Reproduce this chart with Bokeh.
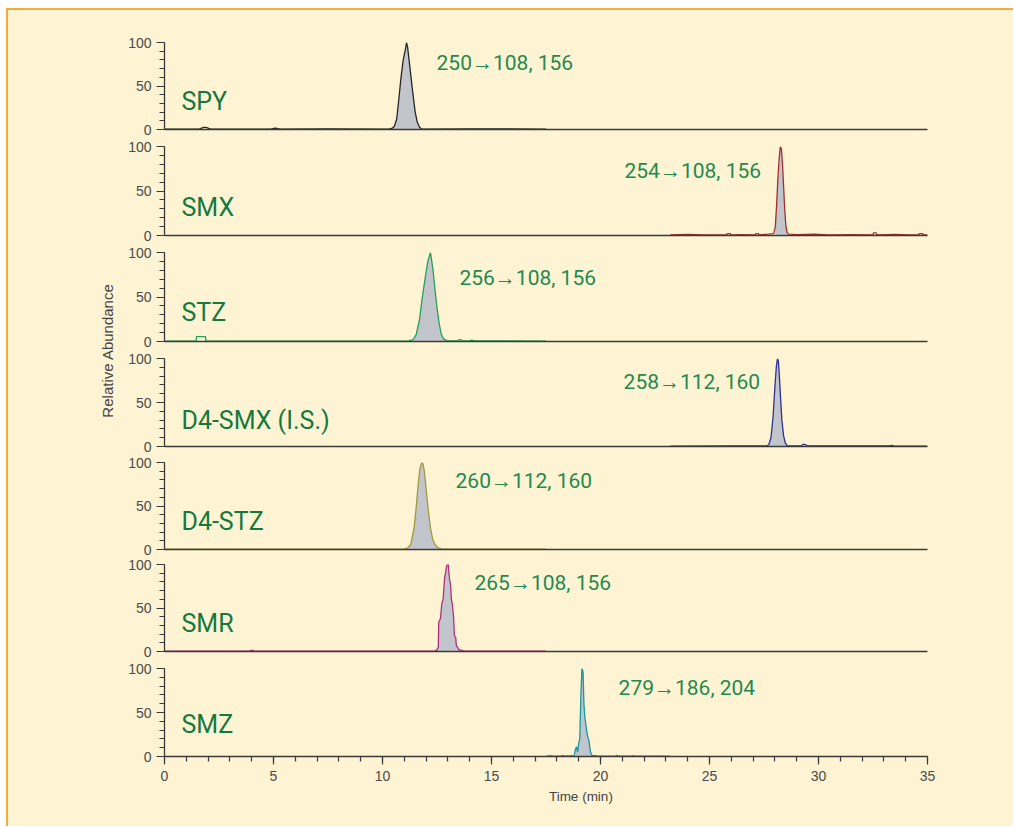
import numpy as np
from bokeh.plotting import figure
from bokeh.layouts import row, column
from bokeh.models import Range1d, SingleIntervalTicker, FixedTicker, Label, Spacer
from bokeh.embed import file_html
from bokeh.resources import INLINE

# ---------------- data ----------------
compounds = ["SPY", "SMX", "STZ", "D4-SMX (I.S.)", "D4-STZ", "SMR", "SMZ"]
transitions = ["250\u2192108, 156", "254\u2192108, 156", "256\u2192108, 156",
               "258\u2192112, 160", "260\u2192112, 160", "265\u2192108, 156",
               "279\u2192186, 204"]

spy_t = [0, 1.6, 1.7, 1.8, 1.9, 2.0, 2.1, 4.9, 5.0, 5.1, 5.2, 5.3, 7.5, 10.3, 10.45, 10.55,
         10.65, 10.75, 10.85, 10.95, 11.05, 11.1, 11.15, 11.2, 11.3, 11.4, 11.5, 11.6, 11.7,
         11.8, 14.0, 17.5]
spy_y = [0.5, 0.5, 1.5, 2.5, 2.5, 1.5, 0.5, 0.5, 1.2, 1.5, 1.0, 0.5, 0.6, 0.5, 1.5, 4,
         12, 35, 60, 80, 92, 100, 95, 84, 62, 40, 20, 8, 2.5, 0.5, 0.6, 0.5]

smx_t = [23.2, 24.0, 24.8, 25.8, 25.82, 25.95, 25.97, 26.5, 27.1, 27.12, 27.25, 27.27, 27.7,
         27.95, 28.02, 28.08, 28.14, 28.2, 28.25, 28.3, 28.35, 28.4, 28.45, 28.5, 28.55, 28.62,
         29.0, 29.8, 30.5, 31.5, 32.5, 32.52, 32.65, 32.67, 33.5, 34.2, 34.6, 34.62, 34.78,
         34.8, 35.0]
smx_y = [0.8, 1.2, 0.6, 0.8, 2.2, 2.2, 0.8, 1.0, 0.8, 2.0, 2.0, 0.8, 1.5,
         2, 10, 35, 65, 88, 100, 97, 80, 55, 30, 12, 4, 1.5,
         1.0, 1.4, 0.7, 1.0, 0.8, 3.0, 3.0, 0.8, 1.2, 0.6, 0.8, 2.2, 2.2,
         0.8, 0.6]

stz_t = [0, 1.45, 1.47, 1.88, 1.9, 6.0, 11.2, 11.4, 11.55, 11.7, 11.8, 11.9, 12.0, 12.08,
         12.15, 12.2, 12.25, 12.32, 12.4, 12.5, 12.6, 12.7, 12.8, 12.95, 13.4, 13.5, 13.6,
         13.7, 14.0, 14.1, 14.2, 17.5]
stz_y = [0.5, 0.5, 5.5, 5.5, 0.5, 0.5, 0.6, 2, 8, 25, 45, 62, 78, 90,
         96, 100, 92, 80, 60, 38, 20, 8, 3, 1, 0.6, 1.8, 2,
         0.6, 0.6, 1.5, 0.6, 0.5]

d4smx_t = [23.2, 26.0, 27.6, 27.72, 27.82, 27.92, 28.0, 28.07, 28.12, 28.16, 28.2, 28.26,
           28.32, 28.4, 28.48, 28.56, 28.7, 29.2, 29.3, 29.4, 29.5, 33.25, 33.35, 33.45, 35.0]
d4smx_y = [0.5, 0.6, 0.6, 2, 10, 35, 68, 92, 100, 97, 82, 55,
           30, 12, 4, 1, 0.6, 0.6, 2.5, 2.2, 0.6, 0.6, 1.2, 0.6, 0.5]

d4stz_t = [0, 8.0, 11.0, 11.15, 11.3, 11.45, 11.55, 11.65, 11.72, 11.8, 11.86, 11.92, 12.0,
           12.1, 12.2, 12.3, 12.4, 12.5, 12.6, 12.7, 12.8, 17.5]
d4stz_y = [0.5, 0.5, 0.5, 1.5, 6, 25, 50, 78, 93, 100, 98, 90, 70,
           45, 25, 12, 6, 3, 1.5, 0.8, 0.5, 0.5]

smr_t = [0, 3.9, 4.0, 4.1, 8.0, 12.4, 12.48, 12.56, 12.58, 12.66, 12.72, 12.78, 12.85, 12.89,
         12.94, 12.97, 13.02, 13.04, 13.08, 13.12, 13.16, 13.2, 13.26, 13.3, 13.36, 13.39,
         13.45, 13.5, 13.6, 13.73, 13.8, 17.5]
smr_y = [0.5, 0.5, 1.5, 0.5, 0.5, 0.5, 1.5, 5, 34, 38, 55, 60, 85, 90,
         98, 100, 100, 92, 82, 78, 60, 55, 40, 18, 16, 6,
         5, 2, 1.5, 0.8, 0.5, 0.5]

smz_t = [17.5, 17.65, 17.7, 17.75, 18.2, 18.3, 18.35, 18.8, 18.85, 18.9, 18.95, 19.0, 19.05,
         19.1, 19.15, 19.2, 19.24, 19.28, 19.32, 19.36, 19.42, 19.47, 19.54, 19.6, 19.7,
         19.75, 19.8, 20.7, 20.76, 20.82, 21.45, 21.5, 21.55, 23.2]
smz_y = [0.5, 0.5, 1.5, 0.5, 0.5, 1.2, 0.5, 1, 8, 11, 5, 15, 20,
         70, 100, 96, 60, 45, 38, 30, 22, 18, 5, 1.5, 0.5,
         1.5, 0.5, 0.5, 1.5, 0.5, 0.5, 1.2, 0.5, 0.5]

# integration windows (min) of the shaded peak areas
peak_start = [10.45, 28.02, 11.4, 27.72, 11.15, 12.48, 18.85]
peak_end = [11.8, 28.62, 12.95, 28.56, 12.8, 13.73, 19.6]

traces_t = [spy_t, smx_t, stz_t, d4smx_t, d4stz_t, smr_t, smz_t]
traces_y = [spy_y, smx_y, stz_y, d4smx_y, d4stz_y, smr_y, smz_y]

# ---------------- style / layout ----------------
colors = ["#262626", "#a2302a", "#24a158", "#2e3192", "#9f9a3c", "#b0307c", "#1697a0"]
BG = "#fef4d4"
FILL = "#c3c5cd"
AXIS = "#3a3a3a"
TICK_TXT = "#4a4a4a"
NAME_GREEN = "#13793f"
TRANS_GREEN = "#23894e"
COND = "Roboto"
SANS = "Liberation Sans"

frame_h = [87, 89, 89, 88, 87, 87, 88]
top_b = [32, 9, 9, 9, 8, 7, 9]
bot_b = [8, 8, 8, 8, 8, 8, 32]
name_y = [32, 31.5, 32.5, 30, 32, 32, 36]
trans_pos = [(12.48, 77), (21.1, 73), (13.53, 71), (21.06, 73), (13.35, 79), (14.22, 79), (20.83, 78)]

CONTENT_W = 1005
CONTENT_H = 816
LABEL_W = 112
BORDER_L = 44
FRAME_W = 763
PANEL_W = CONTENT_W - LABEL_W
BORDER_R = PANEL_W - BORDER_L - FRAME_W
STRIP_H = CONTENT_H - (sum(top_b) + sum(frame_h) + sum(bot_b))

x_range = Range1d(0, 35)

panels = []
for i in range(7):
    last = (i == 6)
    p = figure(x_range=x_range, y_range=Range1d(0, 100),
               frame_width=FRAME_W, frame_height=frame_h[i],
               min_border_left=BORDER_L, min_border_right=BORDER_R,
               min_border_top=top_b[i], min_border_bottom=bot_b[i],
               output_backend="svg", toolbar_location=None,
               background_fill_color=BG, border_fill_color=BG,
               outline_line_color=None)
    p.xgrid.visible = False
    p.ygrid.visible = False

    t = np.array(traces_t[i], dtype=float)
    y = np.array(traces_y[i], dtype=float)
    m = (t >= peak_start[i]) & (t <= peak_end[i])
    p.varea(x=t[m], y1=0, y2=y[m], fill_color=FILL, fill_alpha=1.0)
    p.line(t, y, line_color=colors[i], line_width=1.3)

    p.add_layout(Label(x=0.78, y=name_y[i], text=compounds[i], text_font=COND,
                       text_font_size="25px", text_color=NAME_GREEN,
                       text_baseline="middle", text_align="left"))
    tx, ty = trans_pos[i]
    p.add_layout(Label(x=tx, y=ty, text=transitions[i], text_font=COND,
                       text_font_size="21px", text_color=TRANS_GREEN,
                       text_baseline="middle", text_align="left"))

    ya = p.yaxis[0]
    ya.ticker = SingleIntervalTicker(interval=50, num_minor_ticks=5)
    ya.axis_line_color = AXIS
    ya.axis_line_width = 1.3
    ya.major_tick_line_color = AXIS
    ya.minor_tick_line_color = AXIS
    ya.major_tick_line_width = 1.2
    ya.minor_tick_line_width = 1.2
    ya.major_tick_in = 0
    ya.major_tick_out = 8
    ya.minor_tick_in = 0
    ya.minor_tick_out = 5
    ya.major_label_text_font = SANS
    ya.major_label_text_font_size = "14px"
    ya.major_label_text_color = TICK_TXT
    ya.major_label_standoff = 5

    xa = p.xaxis[0]
    xa.axis_line_color = AXIS
    xa.axis_line_width = 1.6
    if last:
        xa.ticker = SingleIntervalTicker(interval=5, num_minor_ticks=5)
        xa.major_tick_line_color = AXIS
        xa.minor_tick_line_color = AXIS
        xa.major_tick_line_width = 1.2
        xa.minor_tick_line_width = 1.2
        xa.major_tick_in = 0
        xa.major_tick_out = 8
        xa.minor_tick_in = 0
        xa.minor_tick_out = 5
        xa.major_label_text_font = SANS
        xa.major_label_text_font_size = "14px"
        xa.major_label_text_color = TICK_TXT
        xa.major_label_standoff = 6
    else:
        xa.ticker = FixedTicker(ticks=[], minor_ticks=[])
        xa.major_tick_line_color = None
        xa.minor_tick_line_color = None
        xa.major_tick_out = 0
        xa.major_tick_in = 0
        xa.minor_tick_out = 0
        xa.major_label_standoff = 0
    panels.append(p)


def blank(w, h):
    f = figure(width=w, height=h, x_range=Range1d(0, w), y_range=Range1d(0, h),
               min_border=0, output_backend="svg", toolbar_location=None,
               background_fill_color=BG, border_fill_color=BG, outline_line_color=None)
    f.axis.visible = False
    f.grid.visible = False
    return f


# y-axis title strip (coordinates = pixels)
lab = blank(LABEL_W, CONTENT_H)
lab.add_layout(Label(x=99, y=CONTENT_H - 340, text="Relative Abundance", text_font=SANS,
                     text_font_size="15px", text_color="#444444", angle=np.pi / 2,
                     text_baseline="middle", text_align="center"))

# x-axis title strip, aligned with the panels' time axis
strip = figure(x_range=x_range, y_range=Range1d(0, STRIP_H),
               frame_width=FRAME_W, frame_height=STRIP_H,
               min_border_left=BORDER_L, min_border_right=BORDER_R,
               min_border_top=0, min_border_bottom=0,
               output_backend="svg", toolbar_location=None,
               background_fill_color=BG, border_fill_color=BG, outline_line_color=None)
strip.axis.visible = False
strip.grid.visible = False
strip.add_layout(Label(x=19.1, y=STRIP_H - 8, text="Time (min)", text_font=SANS,
                       text_font_size="13.5px", text_color="#444444",
                       text_baseline="middle", text_align="center"))

main = row(lab, column(*panels, strip, spacing=0), spacing=0,
           styles={"border-top": "2px solid #f6ab36", "border-left": "2px solid #f6ab36",
                   "background-color": BG})

layout = column(Spacer(height=8), row(Spacer(width=6), main, spacing=0), spacing=0)

open("out.html", "w").write(file_html(layout, INLINE))
